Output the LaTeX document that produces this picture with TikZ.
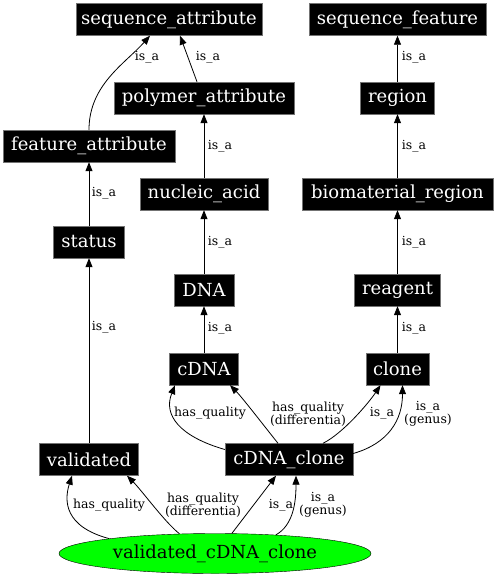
\documentclass[tikz,border=0pt]{standalone}
\usepackage{fontspec}
\setmainfont{DejaVu Serif}
\usetikzlibrary{arrows.meta, shapes.geometric}

\tikzset{
  term/.style={fill=black, draw=black!55, text=white, inner xsep=1pt, inner ysep=0pt,
    minimum height=32pt, font=\fontsize{18}{20}\selectfont},
  rel/.style={-{Triangle[length=9pt,width=7pt]}, line width=0.8pt},
  lbl/.style={inner sep=0pt, align=center, font=\fontsize{12.5}{13}\selectfont},
}

\begin{document}
\begin{tikzpicture}[x=1pt, y=-1pt]
        \useasboundingbox (0,0) rectangle (496,576);
        % terms
        \node[term, minimum width=186pt] (seqattr) at (169,19.5) {sequence\_attribute};
        \node[term, minimum width=177pt] (seqfeat) at (397.5,19.5) {sequence\_feature};
        \node[term, minimum width=180pt] (polyattr) at (204,98) {polymer\_attribute};
        \node[term, minimum width=74pt] (region) at (397.5,98) {region};
        \node[term, minimum width=172pt] (featattr) at (89,146) {feature\_attribute};
        \node[term, minimum width=128pt] (nucacid) at (204,194) {nucleic\_acid};
        \node[term, minimum width=191pt] (biomat) at (397.5,194) {biomaterial\_region};
        \node[term, minimum width=71pt] (status) at (89,242) {status};
        \node[term, minimum width=60pt] (DNA) at (204,290) {DNA};
        \node[term, minimum width=86pt] (reagent) at (397.5,290) {reagent};
        \node[term, minimum width=69pt] (cDNA) at (204,369) {cDNA};
        \node[term, minimum width=63pt] (clone) at (397.5,369) {clone};
        \node[term, minimum width=99pt] (validated) at (89,459.5) {validated};
        \node[term, minimum width=128pt] (cDNAclone) at (289,459.5) {cDNA\_clone};
        \node[ellipse, draw=black, fill=green, inner sep=0pt, minimum width=312pt, minimum height=40pt,
          font=\fontsize{18}{20}\selectfont] (vcc) at (215,553.5) {validated\_cDNA\_clone};

        % is_a chains
        \draw[rel] (featattr.north) .. controls +(0,-45) and +(-25,28) .. ([xshift=-19pt]seqattr.south);
        \draw[rel] ([xshift=-7pt]polyattr.north) -- ([xshift=11pt]seqattr.south);
        \draw[rel] (nucacid) -- (polyattr);
        \draw[rel] (DNA) -- (nucacid);
        \draw[rel] (cDNA) -- (DNA);
        \draw[rel] (status) -- (featattr);
        \draw[rel] (validated) -- (status);
        \draw[rel] (region) -- (seqfeat);
        \draw[rel] (biomat) -- (region);
        \draw[rel] (reagent) -- (biomat);
        \draw[rel] (clone) -- (reagent);

        % cDNA_clone
        \draw[rel] ([yshift=10pt]cDNAclone.west) .. controls +(-45,-13) and +(-12,30) .. ([xshift=-29pt]cDNA.south);
        \draw[rel] ([xshift=-11pt]cDNAclone.north) .. controls +(-12,-15) and +(12,12) .. ([xshift=26pt]cDNA.south);
        \draw[rel] ([xshift=34pt]cDNAclone.north) .. controls +(20,-10) and +(-12,18) .. ([xshift=-17pt]clone.south);
        \draw[rel] ([yshift=6pt]cDNAclone.east) .. controls +(35,-10) and +(0,35) .. ([xshift=5pt]clone.south);

        % validated_cDNA_clone
        \draw[rel] (vcc.172) .. controls +(-45,-12) and +(-8,25) .. ([xshift=-17pt]validated.south);
        \draw[rel] (vcc.151) .. controls +(-15,-12) and +(15,15) .. ([xshift=38pt]validated.south);
        \draw[rel] (vcc.50) -- ([xshift=-13pt]cDNAclone.south);
        \draw[rel] (vcc.17) .. controls +(18,-10) and +(0,25) .. ([xshift=7pt]cDNAclone.south);

        % edge labels
        \node[lbl] (l1) at (147,57) {is\_a};
        \node[lbl] (l2) at (208,57) {is\_a};
        \node[lbl] (l3) at (220,146) {is\_a};
        \node[lbl] (l4) at (220,242) {is\_a};
        \node[lbl] (l5) at (220,328) {is\_a};
        \node[lbl] (l6) at (104,193) {is\_a};
        \node[lbl] (l7) at (104,327) {is\_a};
        \node[lbl] (l8) at (414,57) {is\_a};
        \node[lbl] (l9) at (414,146) {is\_a};
        \node[lbl] (l10) at (414,242) {is\_a};
        \node[lbl] (l11) at (414,328) {is\_a};
        \node[lbl] (l12) at (210,413) {has\_quality};
        \node[lbl] (l13) at (308,414) {has\_quality\\(differentia)};
        \node[lbl] (l14) at (382,413) {is\_a};
        \node[lbl] (l15) at (428,414) {is\_a\\(genus)};
        \node[lbl] (l16) at (109,505) {has\_quality};
        \node[lbl] (l17) at (203,505) {has\_quality\\(differentia)};
        \node[lbl] (l18) at (281,505) {is\_a};
        \node[lbl] (l19) at (323,505) {is\_a\\(genus)};
\end{tikzpicture}
\end{document}
